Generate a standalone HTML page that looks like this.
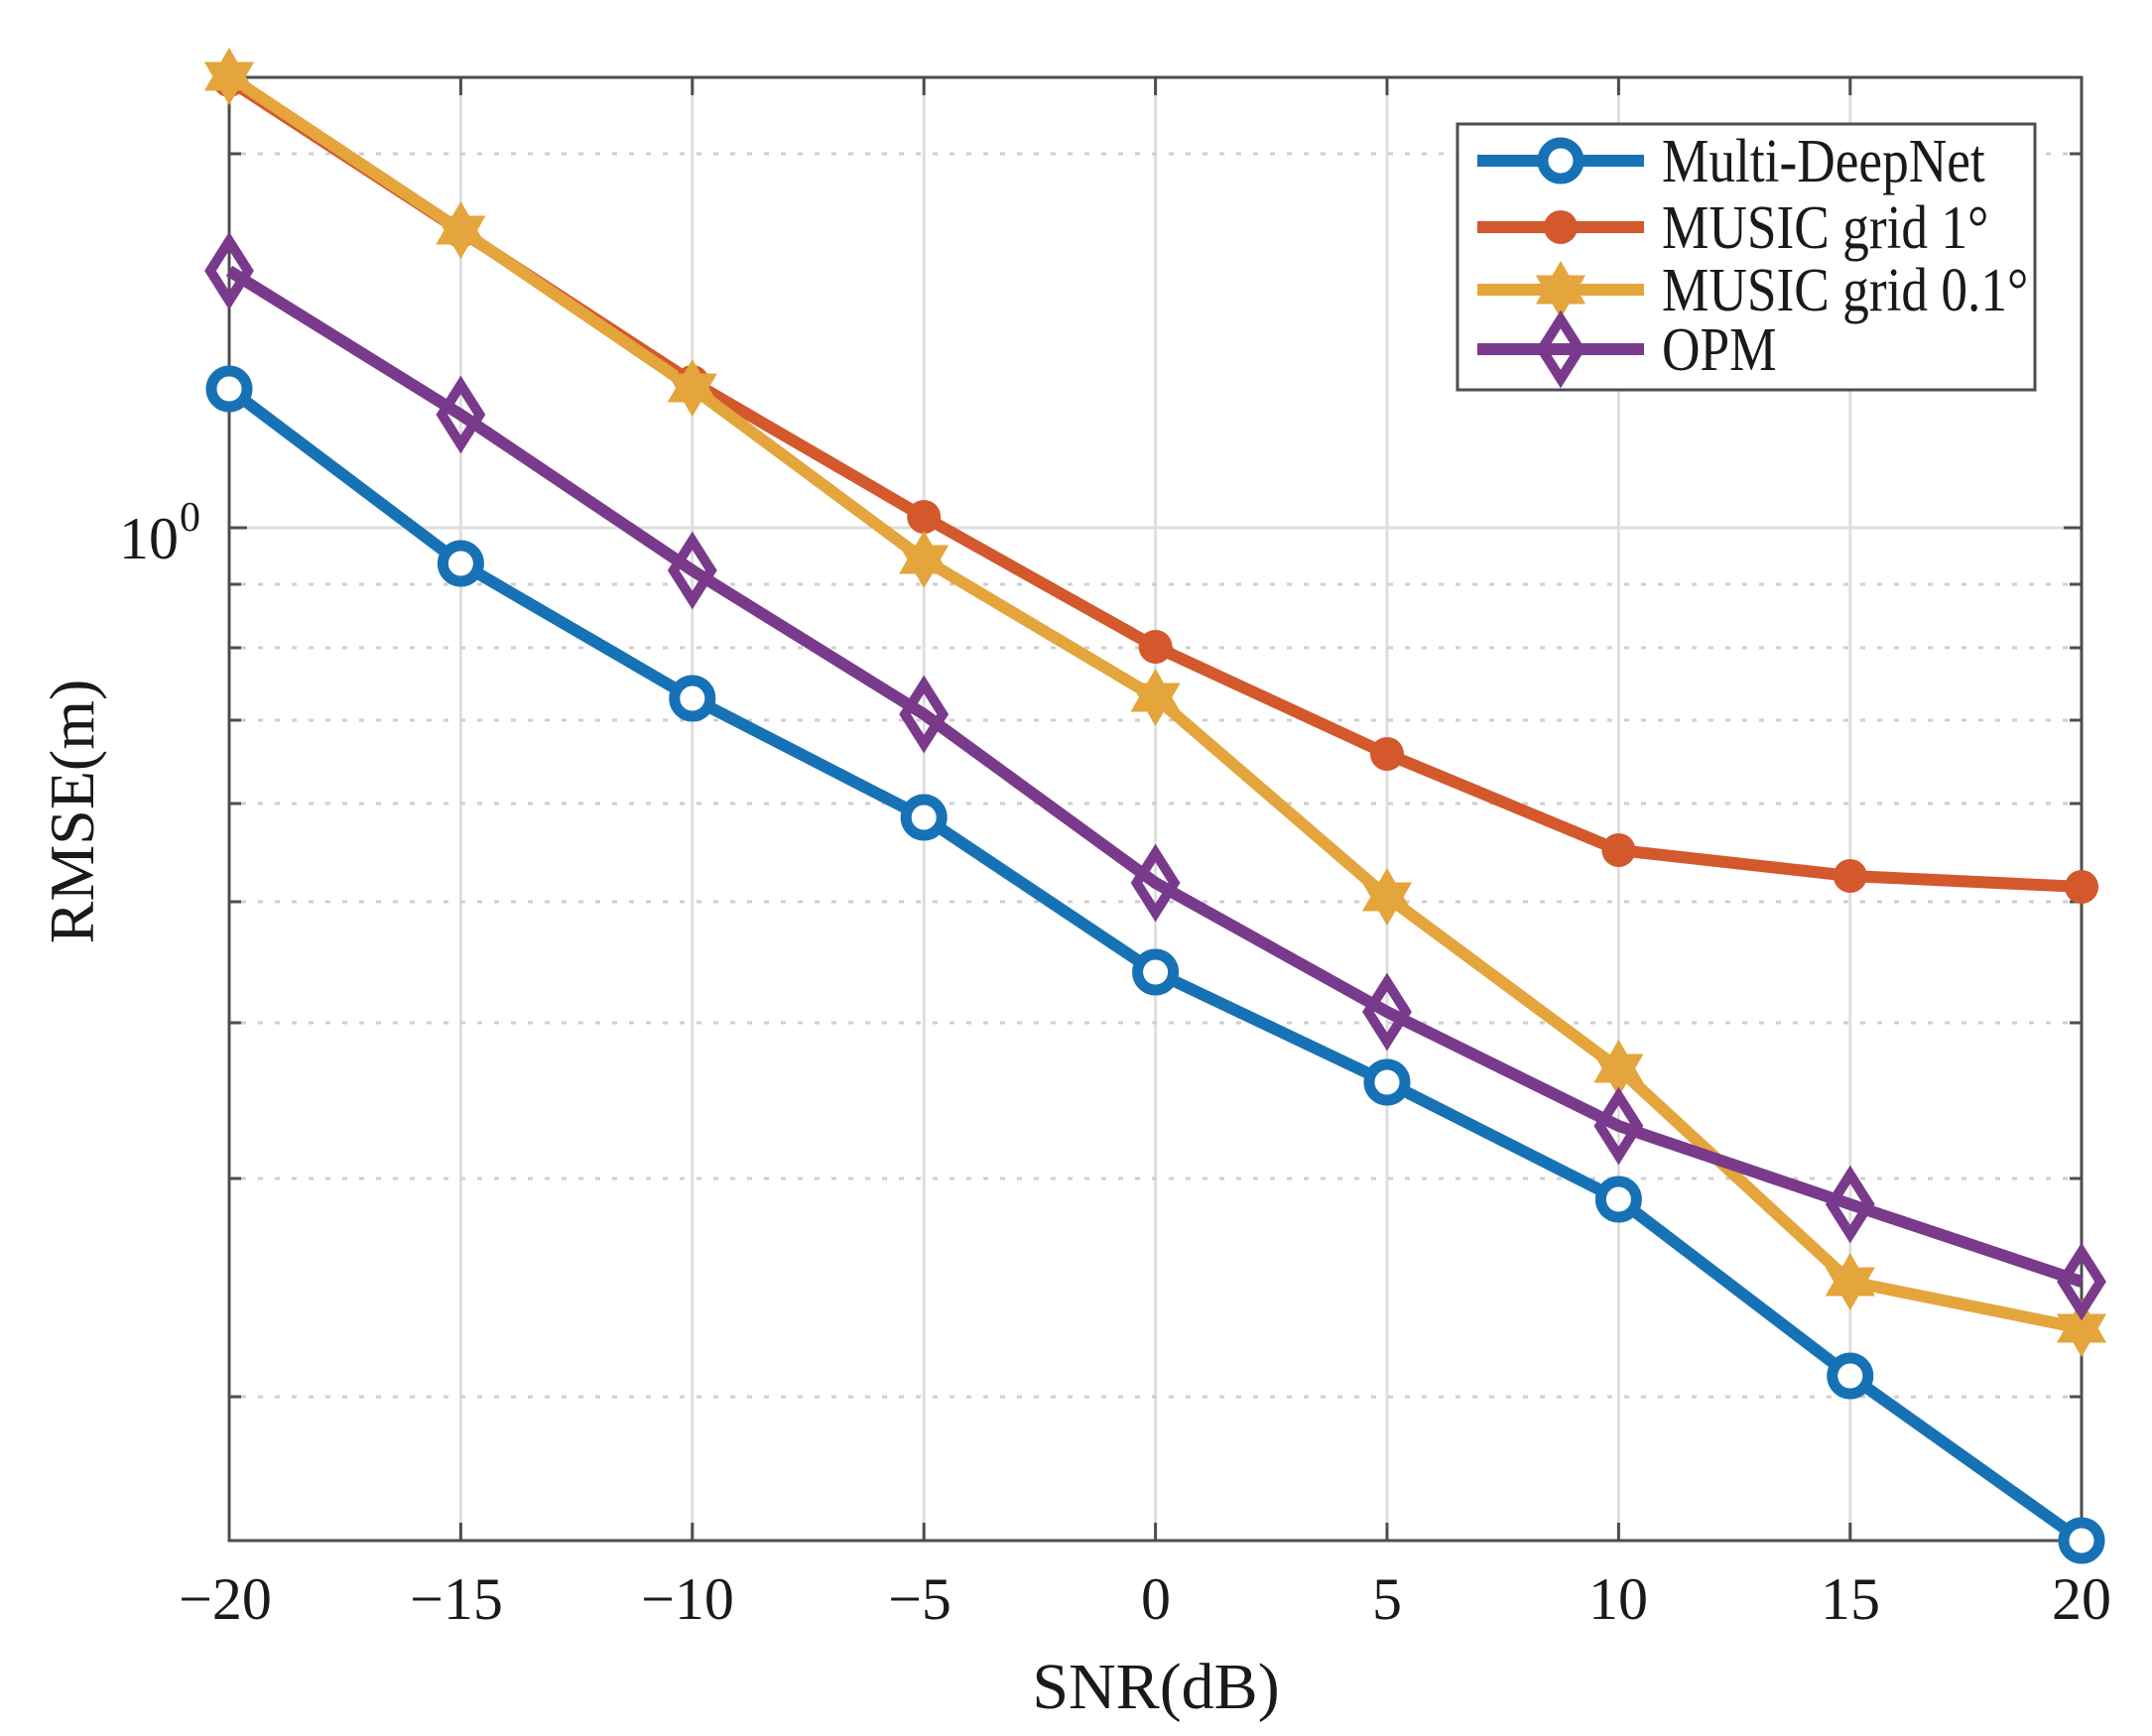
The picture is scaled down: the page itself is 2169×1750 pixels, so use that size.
<!DOCTYPE html>
<html><head><meta charset="utf-8"><style>
html,body{margin:0;padding:0;background:#fff;}
svg{display:block;}
text{font-family:"Liberation Serif",serif;fill:#1a1a1a;}
</style></head><body>
<svg width="2169" height="1750" viewBox="0 0 2169 1750" xmlns="http://www.w3.org/2000/svg">
<defs>
<symbol id="star" viewBox="-30 -30 60 60" overflow="visible"><polygon points="0,-29 8.4,-14.5 25.1,-14.5 16.7,0 25.1,14.5 8.4,14.5 0,29 -8.4,14.5 -25.1,14.5 -16.7,0 -25.1,-14.5 -8.4,-14.5" fill="#E3A53C"/></symbol>
</defs>
<rect width="2169" height="1750" fill="#fff"/>
<g stroke="#dedede" stroke-width="3">
<line x1="464.4" y1="78" x2="464.4" y2="1553"/><line x1="697.8" y1="78" x2="697.8" y2="1553"/>
<line x1="931.2" y1="78" x2="931.2" y2="1553"/><line x1="1164.6" y1="78" x2="1164.6" y2="1553"/>
<line x1="1398" y1="78" x2="1398" y2="1553"/><line x1="1631.4" y1="78" x2="1631.4" y2="1553"/>
<line x1="1864.8" y1="78" x2="1864.8" y2="1553"/>
<line x1="231" y1="532" x2="2098" y2="532"/>
</g>
<g stroke="#cfcfcf" stroke-width="3" stroke-dasharray="5 12">
<line x1="243" y1="155" x2="2086" y2="155"/>
<line x1="243" y1="589" x2="2086" y2="589"/>
<line x1="243" y1="653" x2="2086" y2="653"/>
<line x1="243" y1="726" x2="2086" y2="726"/>
<line x1="243" y1="810" x2="2086" y2="810"/>
<line x1="243" y1="909" x2="2086" y2="909"/>
<line x1="243" y1="1031" x2="2086" y2="1031"/>
<line x1="243" y1="1188" x2="2086" y2="1188"/>
<line x1="243" y1="1408" x2="2086" y2="1408"/>
</g>
<g stroke="#4d4d4d" stroke-width="3" fill="none">
<rect x="231" y="78" width="1867" height="1475"/>
<path d="M231 155h12M231 532h18M231 589h12M231 653h12M231 726h12M231 810h12M231 909h12M231 1031h12M231 1188h12M231 1408h12"/>
<path d="M2098 155h-12M2098 532h-18M2098 589h-12M2098 653h-12M2098 726h-12M2098 810h-12M2098 909h-12M2098 1031h-12M2098 1188h-12M2098 1408h-12"/>
<path d="M464.4 1553v-18M697.8 1553v-18M931.2 1553v-18M1164.6 1553v-18M1398 1553v-18M1631.4 1553v-18M1864.8 1553v-18"/>
<path d="M464.4 78v18M697.8 78v18M931.2 78v18M1164.6 78v18M1398 78v18M1631.4 78v18M1864.8 78v18"/>
</g>
<g font-size="60" text-anchor="middle">
<text x="227" y="1632">−20</text><text x="460" y="1632">−15</text><text x="693" y="1632">−10</text>
<text x="927" y="1632">−5</text><text x="1165" y="1632">0</text><text x="1398" y="1632">5</text>
<text x="1631" y="1632">10</text><text x="1865" y="1632">15</text><text x="2098" y="1632">20</text>
</g>
<text x="180" y="563" font-size="60" text-anchor="end">10</text>
<text x="181" y="535" font-size="42">0</text>
<text x="1165" y="1722" font-size="66" text-anchor="middle">SNR(dB)</text>
<text transform="translate(94,818) rotate(-90)" font-size="64" text-anchor="middle">RMSE(m)</text>
<g fill="none" stroke-width="12" stroke-linejoin="round">
<polyline stroke="#D3582C" points="231,81 464.4,233 697.8,385 931.2,521 1164.6,652 1398,760 1631.4,857 1864.8,883 2098,894"/>
<polyline stroke="#E3A53C" points="231,77 464.4,232 697.8,391 931.2,564 1164.6,703 1398,904 1631.4,1077 1864.8,1292 2098,1339"/>
<polyline stroke="#7A3A8C" points="231,273 464.4,418 697.8,575 931.2,720 1164.6,890 1398,1020 1631.4,1135 1864.8,1214 2098,1292"/>
<polyline stroke="#1772B5" points="231,392 464.4,568 697.8,704 931.2,824 1164.6,980 1398,1091 1631.4,1209 1864.8,1387 2098,1553"/>
</g>
<g fill="#D3582C">
<circle cx="231" cy="81" r="17"/><circle cx="464.4" cy="233" r="17"/><circle cx="697.8" cy="385" r="17"/><circle cx="931.2" cy="521" r="17"/><circle cx="1164.6" cy="652" r="17"/><circle cx="1398" cy="760" r="17"/><circle cx="1631.4" cy="857" r="17"/><circle cx="1864.8" cy="883" r="17"/><circle cx="2098" cy="894" r="17"/>
</g>
<g>
<use href="#star" x="201" y="47" width="60" height="60"/><use href="#star" x="434.4" y="202" width="60" height="60"/><use href="#star" x="667.8" y="361" width="60" height="60"/><use href="#star" x="901.2" y="534" width="60" height="60"/><use href="#star" x="1134.6" y="673" width="60" height="60"/><use href="#star" x="1368" y="874" width="60" height="60"/><use href="#star" x="1601.4" y="1047" width="60" height="60"/><use href="#star" x="1834.8" y="1262" width="60" height="60"/><use href="#star" x="2068" y="1309" width="60" height="60"/>
</g>
<g fill="none" stroke="#7A3A8C" stroke-width="10">
<path d="M231 243l19 30-19 30-19-30z"/><path d="M464.4 388l19 30-19 30-19-30z"/><path d="M697.8 545l19 30-19 30-19-30z"/><path d="M931.2 690l19 30-19 30-19-30z"/><path d="M1164.6 860l19 30-19 30-19-30z"/><path d="M1398 990l19 30-19 30-19-30z"/><path d="M1631.4 1105l19 30-19 30-19-30z"/><path d="M1864.8 1184l19 30-19 30-19-30z"/><path d="M2098 1262l19 30-19 30-19-30z"/>
</g>
<g fill="#fff" stroke="#1772B5" stroke-width="11">
<circle cx="231" cy="392" r="18"/><circle cx="464.4" cy="568" r="18"/><circle cx="697.8" cy="704" r="18"/><circle cx="931.2" cy="824" r="18"/><circle cx="1164.6" cy="980" r="18"/><circle cx="1398" cy="1091" r="18"/><circle cx="1631.4" cy="1209" r="18"/><circle cx="1864.8" cy="1387" r="18"/><circle cx="2098" cy="1553" r="18"/>
</g>
<rect x="1469" y="125" width="582" height="268" fill="#fff" stroke="#4d4d4d" stroke-width="3"/>
<g stroke-width="12">
<line x1="1489" y1="162" x2="1657" y2="162" stroke="#1772B5"/>
<line x1="1489" y1="229" x2="1657" y2="229" stroke="#D3582C"/>
<line x1="1489" y1="292" x2="1657" y2="292" stroke="#E3A53C"/>
<line x1="1489" y1="352" x2="1657" y2="352" stroke="#7A3A8C"/>
</g>
<circle cx="1573" cy="162" r="18" fill="#fff" stroke="#1772B5" stroke-width="11"/>
<circle cx="1573" cy="229" r="17" fill="#D3582C"/>
<use href="#star" x="1543" y="262" width="60" height="60"/>
<path d="M1573 322l19 30-19 30-19-30z" fill="none" stroke="#7A3A8C" stroke-width="10"/>
<g font-size="62" transform="translate(1675,0) scale(0.86,1)">
<text x="0" y="183">Multi-DeepNet</text>
<text x="0" y="250">MUSIC grid 1°</text>
<text x="0" y="313">MUSIC grid 0.1°</text>
<text x="0" y="373">OPM</text>
</g>
</svg>
</body></html>
